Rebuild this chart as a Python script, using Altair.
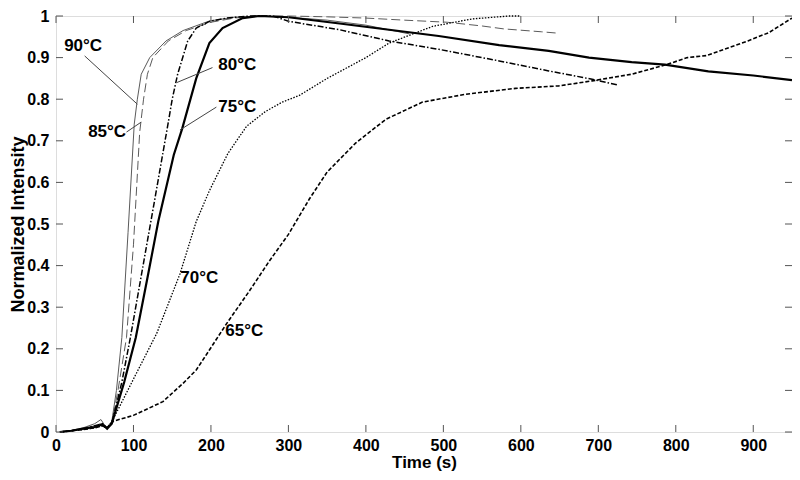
import altair as alt
import pandas as pd

# ---- data ----
t90 = [5, 20, 35, 50, 58, 65, 72, 78, 85, 93, 101, 105, 110, 121, 142, 164, 198, 230, 260, 300, 350, 400, 456]
v90 = [0, 0.004, 0.01, 0.02, 0.03, 0.01, 0.025, 0.10, 0.227, 0.48, 0.74, 0.80, 0.86, 0.90, 0.94, 0.965, 0.988, 0.997, 1.0, 0.997, 0.99, 0.978, 0.957]

t85 = [5, 20, 35, 50, 58, 65, 72, 80, 91, 100, 108, 113, 118, 125, 145, 168, 200, 230, 262, 300, 350, 400, 450, 505, 550, 578, 627, 646]
v85 = [0, 0.003, 0.008, 0.015, 0.02, 0.008, 0.022, 0.10, 0.227, 0.45, 0.72, 0.80, 0.86, 0.90, 0.94, 0.965, 0.985, 0.995, 1.0, 1.0, 0.998, 0.995, 0.99, 0.985, 0.976, 0.969, 0.962, 0.959]

t80 = [5, 20, 35, 50, 60, 66, 72, 85, 96, 110, 127, 145, 150, 157, 170, 181, 198, 220, 250, 280, 301, 366, 430, 494, 572, 636, 692, 726]
v80 = [0, 0.003, 0.008, 0.015, 0.02, 0.01, 0.02, 0.12, 0.227, 0.375, 0.554, 0.745, 0.80, 0.86, 0.94, 0.971, 0.987, 0.995, 1.0, 1.0, 0.987, 0.967, 0.94, 0.92, 0.892, 0.868, 0.848, 0.834]

t75 = [5, 20, 35, 50, 60, 66, 72, 88, 103, 118, 132, 152, 163, 172, 181, 198, 215, 241, 262, 300, 366, 430, 494, 572, 636, 688, 743, 786, 842, 900, 950]
v75 = [0, 0.003, 0.008, 0.012, 0.018, 0.008, 0.02, 0.12, 0.227, 0.37, 0.506, 0.666, 0.73, 0.79, 0.85, 0.935, 0.971, 0.995, 1.0, 0.997, 0.982, 0.967, 0.952, 0.93, 0.916, 0.90, 0.889, 0.883, 0.867, 0.857, 0.846]

t70 = [5, 20, 35, 50, 60, 66, 72, 82, 104, 130, 160, 181, 198, 222, 246, 270, 292, 314, 350, 400, 430, 486, 537, 585, 600]
v70 = [0, 0.003, 0.006, 0.01, 0.015, 0.008, 0.025, 0.061, 0.142, 0.237, 0.38, 0.506, 0.58, 0.67, 0.735, 0.77, 0.793, 0.809, 0.85, 0.90, 0.935, 0.975, 0.993, 1.0, 1.0]

t65 = [5, 20, 35, 50, 60, 66, 74, 100, 138, 164, 181, 198, 220, 250, 275, 300, 327, 350, 387, 426, 473, 529, 593, 649, 692, 743, 786, 815, 840, 870, 893, 920, 950]
v65 = [0, 0.003, 0.006, 0.01, 0.015, 0.01, 0.026, 0.04, 0.073, 0.117, 0.149, 0.197, 0.26, 0.34, 0.41, 0.475, 0.56, 0.625, 0.695, 0.752, 0.793, 0.812, 0.826, 0.832, 0.844, 0.86, 0.882, 0.90, 0.905, 0.925, 0.94, 0.96, 0.995]

series_names = ["90", "85", "80", "75", "70", "65"]
series_t = [t90, t85, t80, t75, t70, t65]
series_v = [v90, v85, v80, v75, v70, v65]

label_text = ["90°C", "85°C", "80°C", "75°C", "70°C", "65°C"]
label_t = [35, 66, 234, 234, 185, 243]
label_v = [0.927, 0.722, 0.882, 0.782, 0.369, 0.243]

leader_t1 = [37, 91, 202, 207]
leader_v1 = [0.904, 0.721, 0.876, 0.781]
leader_t2 = [105, 110, 156, 160]
leader_v2 = [0.788, 0.745, 0.840, 0.726]

x_ticks = [0, 100, 200, 300, 400, 500, 600, 700, 800, 900]
y_ticks = [0, 0.1, 0.2, 0.3, 0.4, 0.5, 0.6, 0.7, 0.8, 0.9, 1.0]

# ---- build tables ----
rows = []
for name, ts, vs in zip(series_names, series_t, series_v):
    for i, (t, v) in enumerate(zip(ts, vs)):
        rows.append({"series": name, "t": t, "v": v, "order": i})
df = pd.DataFrame(rows)
labels_df = pd.DataFrame({"text": label_text, "t": label_t, "v": label_v})
leaders_df = pd.DataFrame({"t": leader_t1, "v": leader_v1, "t2": leader_t2, "v2": leader_v2})
xt_df = pd.DataFrame({"t": x_ticks})
yt_df = pd.DataFrame({"v": y_ticks})

W, H = 736, 416
FONT = "Liberation Sans"

xscale = alt.Scale(domain=[0, 950], nice=False, zero=False)
yscale = alt.Scale(domain=[0, 1], nice=False)

xaxis = alt.Axis(values=x_ticks, ticks=False, domain=False, grid=False, title="Time (s)",
                 labelFont=FONT, labelFontSize=16, labelFontWeight="bold", labelColor="black",
                 labelPadding=5, titleFont=FONT, titleFontSize=17, titleFontWeight="bold",
                 titleColor="black", titlePadding=1, labelFlush=False)
yaxis = alt.Axis(values=y_ticks, ticks=False, domain=False, grid=False, title="Normalized Intensity",
                 format="~g", labelFont=FONT, labelFontSize=16, labelFontWeight="bold",
                 labelColor="black", labelPadding=7, titleFont=FONT, titleFontSize=18,
                 titleFontWeight="bold", titleColor="black", titleX=-29,
                 titleBaseline="bottom", labelFlush=False)

def X(field):
    return alt.X(field, scale=xscale, axis=xaxis)

def Y(field):
    return alt.Y(field, scale=yscale, axis=yaxis)

styles = {
    "90": dict(color="#5a5a5a", strokeWidth=1.0),
    "85": dict(color="#5a5a5a", strokeWidth=1.0, strokeDash=[9, 4]),
    "80": dict(color="black", strokeWidth=1.5, strokeDash=[6, 2, 1.5, 2]),
    "75": dict(color="black", strokeWidth=2.2),
    "70": dict(color="black", strokeWidth=1.3, strokeDash=[1.5, 1.5]),
    "65": dict(color="black", strokeWidth=1.6, strokeDash=[4, 2]),
}

layers = []
for name in series_names:
    layers.append(
        alt.Chart(df).transform_filter(alt.datum.series == name)
        .mark_line(**styles[name]).encode(x=X("t:Q"), y=Y("v:Q"), order="order:Q")
    )

leaders = alt.Chart(leaders_df).mark_rule(color="#444", strokeWidth=1).encode(
    x=X("t:Q"), y=Y("v:Q"), x2="t2:Q", y2="v2:Q")

texts = alt.Chart(labels_df).mark_text(font=FONT, fontSize=17, fontWeight="bold", color="black",
                                       align="center", baseline="middle").encode(
    x=X("t:Q"), y=Y("v:Q"), text="text:N")

tick_len = 7
xt_bottom = alt.Chart(xt_df).mark_rule(color="#555", strokeWidth=1).encode(
    x=X("t:Q"), y=alt.value(H), y2=alt.value(H - tick_len))
xt_top = alt.Chart(xt_df).mark_rule(color="#555", strokeWidth=1).encode(
    x=X("t:Q"), y=alt.value(0), y2=alt.value(tick_len))
yt_left = alt.Chart(yt_df).mark_rule(color="#555", strokeWidth=1).encode(
    y=Y("v:Q"), x=alt.value(0), x2=alt.value(tick_len))
yt_right = alt.Chart(yt_df).mark_rule(color="#555", strokeWidth=1).encode(
    y=Y("v:Q"), x=alt.value(W), x2=alt.value(W - tick_len))

chart = alt.layer(*layers, leaders, texts, xt_bottom, xt_top, yt_left, yt_right).properties(
    width=W, height=H,
    autosize=alt.AutoSizeParams(type="none"),
    padding={"left": 48, "top": 8, "right": 0, "bottom": 40},
).configure_view(stroke="#555", strokeWidth=1).configure(background="white")

chart.save("out.html", embed_options={"renderer": "svg", "actions": False})
